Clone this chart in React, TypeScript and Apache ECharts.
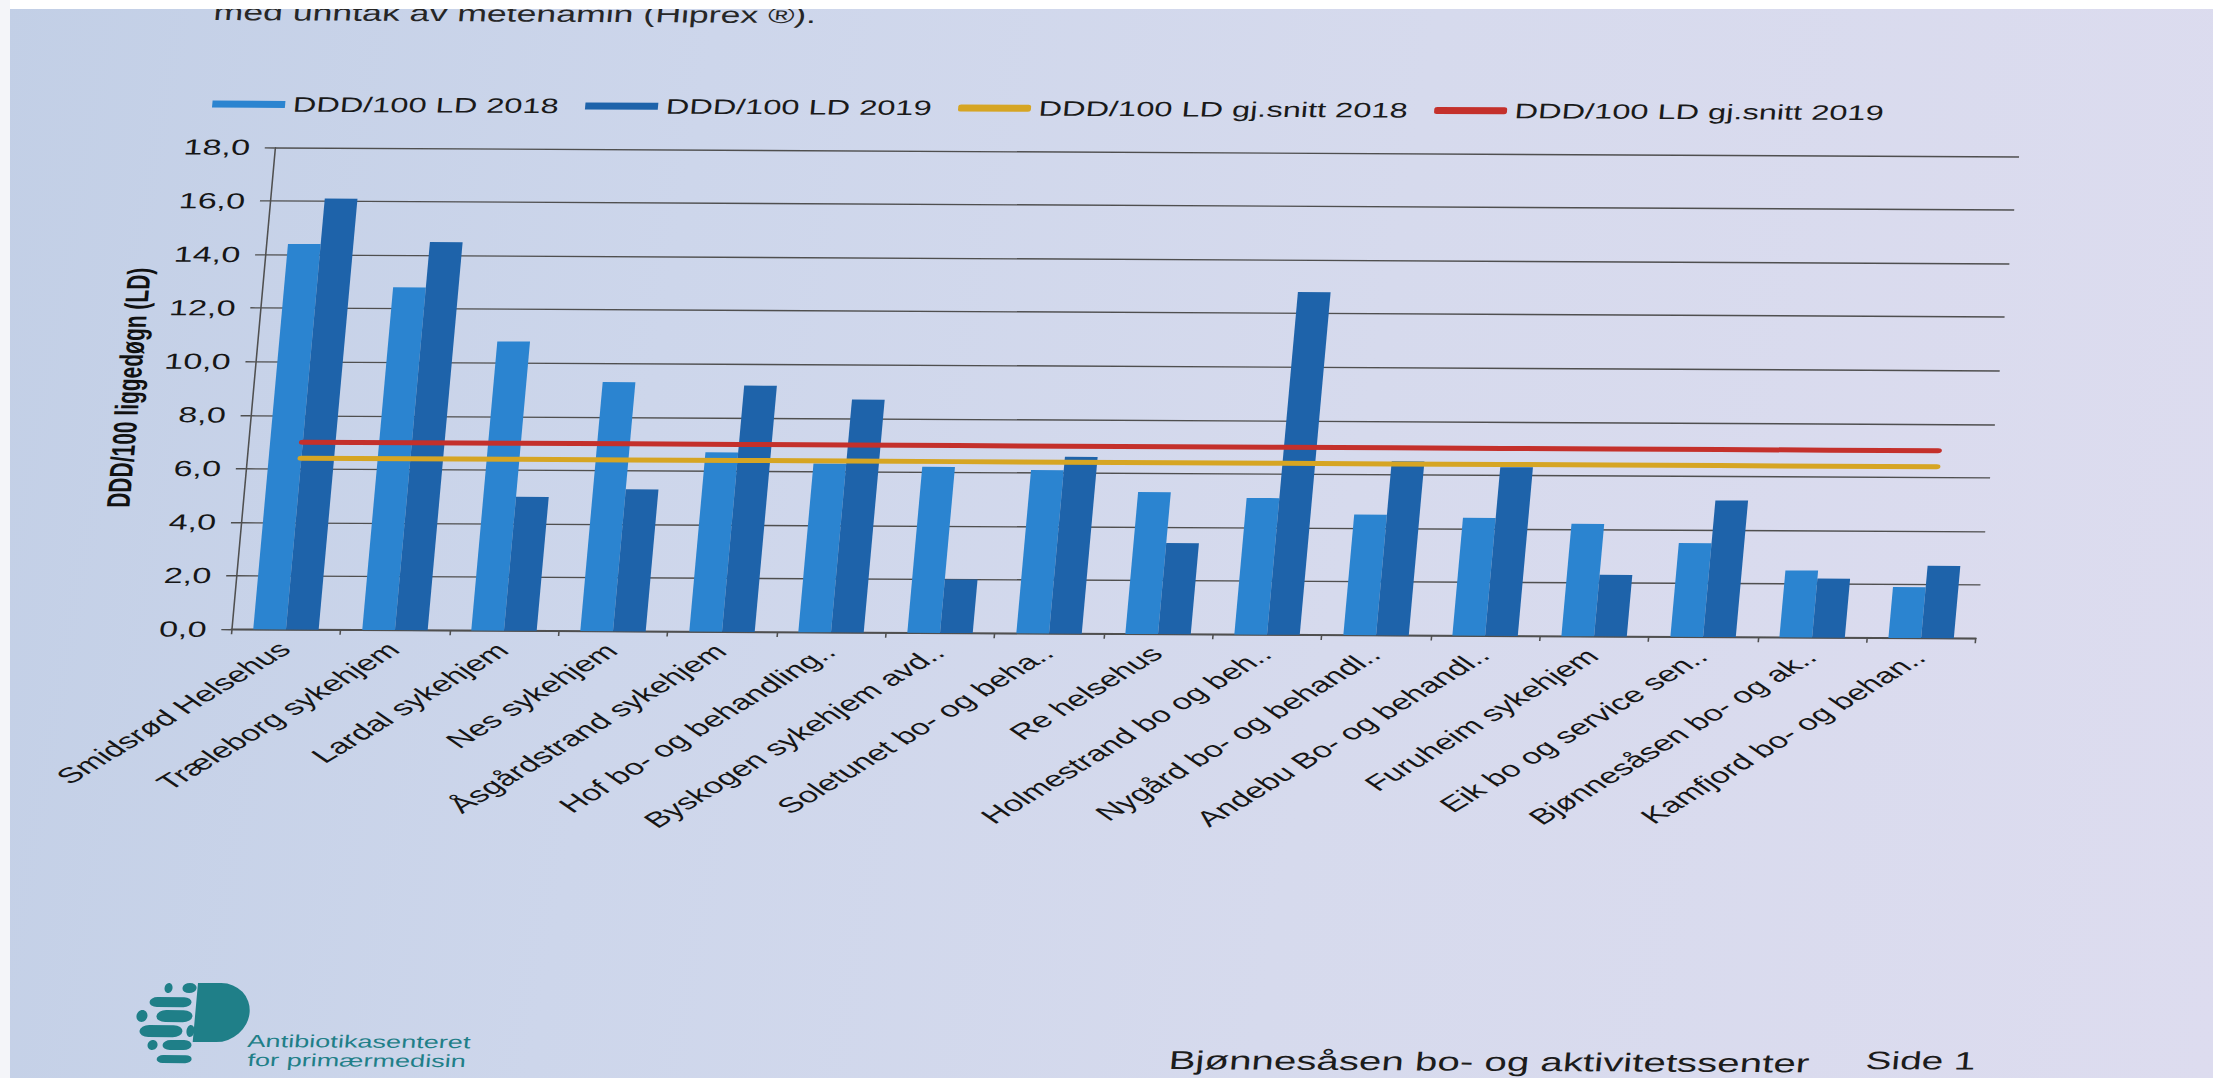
import React, { useEffect, useRef } from 'react';
import * as echarts from 'echarts';

// ---------- data ----------
const categories = [
  'Smidsrød Helsehus',
  'Træleborg sykehjem',
  'Lardal sykehjem',
  'Nes sykehjem',
  'Åsgårdstrand sykehjem',
  'Hof bo- og behandling..',
  'Byskogen sykehjem avd..',
  'Soletunet bo- og beha..',
  'Re helsehus',
  'Holmestrand bo og beh..',
  'Nygård bo- og behandl..',
  'Andebu Bo- og behandl..',
  'Furuheim sykehjem',
  'Eik bo og service sen..',
  'Bjønnesåsen bo- og ak..',
  'Kamfjord bo- og behan..',
];
const ddd2018 = [14.4, 12.8, 10.8, 9.3, 6.7, 6.3, 6.2, 6.1, 5.3, 5.1, 4.5, 4.4, 4.2, 3.5, 2.5, 1.9];
const ddd2019 = [16.1, 14.5, 5.0, 5.3, 9.2, 8.7, 2.0, 6.6, 3.4, 12.8, 6.5, 6.3, 2.3, 5.1, 2.2, 2.7];
const average2018 = 6.4;
const average2019 = 7.0;
const seriesNames = [
  'DDD/100 LD 2018',
  'DDD/100 LD 2019',
  'DDD/100 LD gj.snitt 2018',
  'DDD/100 LD gj.snitt 2019',
];
const yAxisTitle = 'DDD/100 liggedøgn (LD)';
const yMin = 0;
const yMax = 18;
const yInterval = 2;
const introText = 'med unntak av metenamin (Hiprex ®).';
const footerTitle = 'Bjønnesåsen bo- og aktivitetssenter';
const footerPage = 'Side 1';
const logoLines = ['Antibiotikasenteret', 'for primærmedisin'];

// ---------- photo geometry (the page is photographed stretched & sheared) ----------
const PAGE_W = 2213;
const PAGE_H = 1078;
const STRETCH = 1.55;
const SKEW_DEG = -4.85;
const ROT_DEG = 0.3;
const SHEAR = Math.tan((SKEW_DEG * Math.PI) / 180);
const ROT = (ROT_DEG * Math.PI) / 180;
const ORIGIN_Y = 390;
const CHART_W = 1470;

// page pixel -> chart div pixel (inverse of the CSS transform)
const toDiv = (X: number, Y: number): [number, number] => {
  const ry = Y - ORIGIN_Y;
  const x1 = X * Math.cos(ROT) + ry * Math.sin(ROT);
  const y1 = -X * Math.sin(ROT) + ry * Math.cos(ROT);
  const x2 = x1 - SHEAR * y1;
  return [x2 / STRETCH, y1 + ORIGIN_Y];
};

const FONT = '"Liberation Sans", Arial, Helvetica, sans-serif';
const TEAL = '#1f7f88';
const C2018 = '#2b84d0';
const C2019 = '#1e63aa';
const CAVG18 = '#d6a523';
const CAVG19 = '#c4302b';
const GRID_C = '#4f4f4f';

// decorative logo pieces, page px [x0, y0, x1, y1]
const LOGO_PILLS = [
  [183, 983, 197, 993],
  [150, 997, 192, 1007],
  [157, 1010, 193, 1022],
  [140, 1025, 183, 1037],
  [163, 1040, 192, 1050],
  [157, 1055, 192, 1063],
];
const LOGO_DOTS = [
  [165, 983, 173, 993],
  [137, 1010, 148, 1022],
  [187, 1025, 195, 1037],
  [148, 1040, 158, 1050],
];

echarts.graphic.registerShape(
  'apLogoD',
  echarts.graphic.extendPath('M0 0 L15 0 A20 29.5 0 0 1 15 59 L0 59 Z', {}) as any
);

function buildGraphics() {
  const g: any[] = [];
  const textAt = (X: number, baseY: number, text: string, fs: number, fill: string) => {
    const [x, y] = toDiv(X, baseY);
    g.push({
      type: 'text',
      x,
      y: y - 0.35 * fs,
      silent: true,
      style: { text, fontSize: fs, fontFamily: FONT, fill, verticalAlign: 'middle', align: 'left' },
    });
  };
  textAt(213, 20, introText, 23, '#262626');
  textAt(1168, 1069, footerTitle, 26, '#1c1c1c');
  textAt(1865, 1069, footerPage, 25, '#1c1c1c');
  textAt(247, 1047, logoLines[0], 17.5, TEAL);
  textAt(247, 1066, logoLines[1], 17.5, TEAL);

  LOGO_PILLS.forEach(([x0, y0, x1, y1]) => {
    const [x, y] = toDiv(x0, y0);
    const w = (x1 - x0) / STRETCH;
    const h = y1 - y0;
    g.push({ type: 'rect', x, y, silent: true, shape: { x: 0, y: 0, width: w, height: h, r: h / 2 }, style: { fill: TEAL } });
  });
  LOGO_DOTS.forEach(([x0, y0, x1, y1]) => {
    const [x, y] = toDiv(x0, y0);
    const w = (x1 - x0) / STRETCH;
    const h = y1 - y0;
    g.push({ type: 'ellipse', x, y, silent: true, shape: { cx: w / 2, cy: h / 2, rx: w / 2, ry: h / 2 }, style: { fill: TEAL } });
  });
  const [dx, dy] = toDiv(198, 983);
  g.push({ type: 'apLogoD', x: dx, y: dy, silent: true, style: { fill: TEAL } });
  return g;
}

export default function App() {
  const ref = useRef<HTMLDivElement>(null);

  useEffect(() => {
    if (!ref.current) return;
    const chart = echarts.init(ref.current, undefined, { renderer: 'svg' });
    const gridLeft = toDiv(253, 390)[0];
    const gridRightX = toDiv(1998, 390)[0];
    const legendPos = toDiv(205, 99);

    const option: any = {
      animation: false,
      backgroundColor: 'transparent',
      textStyle: { fontFamily: FONT },
      color: [C2018, C2019, CAVG18, CAVG19],
      legend: {
        left: legendPos[0],
        top: legendPos[1] - 12,
        itemWidth: 47,
        itemHeight: 7,
        itemGap: 17,
        selectedMode: false,
        textStyle: { fontSize: 21, color: '#1a1a1a', fontFamily: FONT, lineHeight: 24 },
        data: [
          { name: seriesNames[0], icon: 'rect' },
          { name: seriesNames[1], icon: 'rect' },
          { name: seriesNames[2], icon: 'roundRect' },
          { name: seriesNames[3], icon: 'roundRect' },
        ],
      },
      grid: {
        left: gridLeft,
        right: CHART_W - gridRightX,
        top: 146,
        bottom: PAGE_H - 628,
        containLabel: false,
      },
      xAxis: {
        type: 'category',
        data: categories,
        boundaryGap: true,
        axisLine: { show: true, lineStyle: { color: GRID_C, width: 1.6 } },
        axisTick: { show: true, length: 5, alignWithLabel: false, lineStyle: { color: GRID_C, width: 1 } },
        axisLabel: {
          rotate: 45,
          interval: 0,
          margin: 16,
          fontSize: 22,
          color: '#161616',
          fontFamily: FONT,
        },
      },
      yAxis: {
        type: 'value',
        min: yMin,
        max: yMax,
        interval: yInterval,
        name: yAxisTitle,
        nameLocation: 'middle',
        nameRotate: 90,
        nameGap: 63,
        nameTextStyle: { fontSize: 21, fontWeight: 'bold', color: '#111', fontFamily: FONT },
        axisLine: { show: true, lineStyle: { color: GRID_C, width: 1 } },
        axisTick: { show: true, length: 6.5, lineStyle: { color: GRID_C, width: 1.4 } },
        splitLine: { show: true, lineStyle: { color: GRID_C, width: 1.4 } },
        axisLabel: {
          margin: 16,
          fontSize: 22,
          color: '#161616',
          fontFamily: FONT,
          formatter: (v: number) => v.toFixed(1).replace('.', ','),
        },
      },
      series: [
        {
          name: seriesNames[0],
          type: 'bar',
          data: ddd2018,
          barGap: '0%',
          barCategoryGap: '40%',
          itemStyle: { color: C2018 },
          z: 2,
        },
        {
          name: seriesNames[1],
          type: 'bar',
          data: ddd2019,
          barGap: '0%',
          barCategoryGap: '40%',
          itemStyle: { color: C2019 },
          z: 2,
        },
        {
          name: seriesNames[2],
          type: 'line',
          data: categories.map(() => average2018),
          symbol: 'none',
          lineStyle: { width: 5, color: CAVG18, cap: 'round' },
          itemStyle: { color: CAVG18 },
          z: 5,
        },
        {
          name: seriesNames[3],
          type: 'line',
          data: categories.map(() => average2019),
          symbol: 'none',
          lineStyle: { width: 5, color: CAVG19, cap: 'round' },
          itemStyle: { color: CAVG19 },
          z: 6,
        },
      ],
      graphic: buildGraphics(),
    };
    chart.setOption(option);
    return () => chart.dispose();
  }, []);

  return (
    <div
      style={{
        position: 'fixed',
        left: 0,
        top: 0,
        width: PAGE_W,
        height: PAGE_H,
        overflow: 'hidden',
        background: 'linear-gradient(100deg, #c2cfe6 0%, #cdd6eb 30%, #d6daed 60%, #dddcef 100%)',
      }}
    >
      <div
        ref={ref}
        style={{
          position: 'absolute',
          left: 0,
          top: 0,
          width: CHART_W,
          height: PAGE_H,
          transformOrigin: `0px ${ORIGIN_Y}px`,
          transform: `rotate(${ROT_DEG}deg) skewX(${SKEW_DEG}deg) scaleX(${STRETCH})`,
        }}
      />
      <div style={{ position: 'absolute', left: 0, top: 0, width: PAGE_W, height: 9, background: '#ffffff' }} />
      <div style={{ position: 'absolute', left: 0, top: 0, width: 10, height: PAGE_H, background: '#f4f5f9' }} />
    </div>
  );
}
